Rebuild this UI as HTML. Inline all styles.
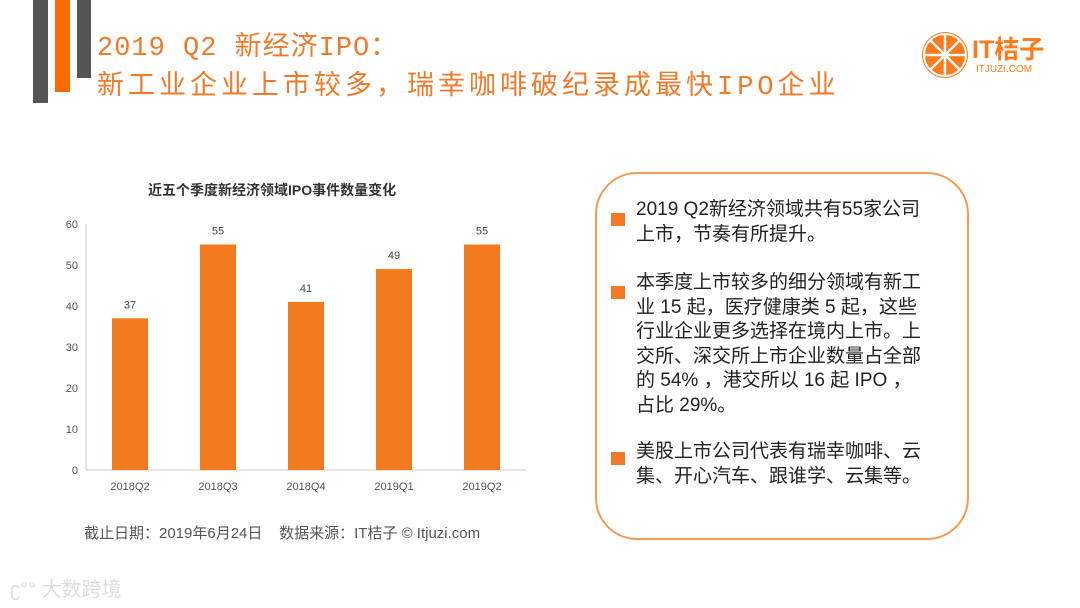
<!DOCTYPE html>
<html><head><meta charset="utf-8"><style>
body{margin:0;width:1080px;height:608px;background:#fff;position:relative;overflow:hidden;font-family:"Liberation Sans","Noto Sans CJK SC",sans-serif}
.abs{position:absolute}
.title{left:97px;color:#f07a2a;font-size:27px;font-family:"Liberation Mono","Noto Sans CJK SC",monospace;white-space:nowrap;letter-spacing:1px}
.tb{position:absolute;left:636px;width:330px;font-size:19px;line-height:24.5px;color:#222;white-space:nowrap}
.bul{position:absolute;left:611px;width:14px;height:13px;background:#f07a2a}
</style></head><body>
<div class="abs" style="left:33px;top:0;width:15px;height:103px;background:#555"></div>
<div class="abs" style="left:55px;top:0;width:15px;height:92px;background:#ff6a00"></div>
<div class="abs" style="left:77px;top:0;width:14px;height:78px;background:#555"></div>
<div class="abs title" style="top:24px">2019 Q2 新经济IPO：</div>
<div class="abs title" style="top:63px;letter-spacing:4px">新工业企业上市较多，瑞幸咖啡破纪录成最快IPO企业</div>
<div class="abs" style="left:920px;top:30px;width:150px;height:50px">
<svg width="50" height="50" viewBox="0 0 50 50" class="abs" style="left:0;top:0"><circle cx="25" cy="25" r="23" fill="#ff7a1a"/><g stroke="#fff" stroke-width="2.5"><line x1="25" y1="4" x2="25" y2="46"/><line x1="4" y1="25" x2="46" y2="25"/><line x1="10" y1="10" x2="40" y2="40"/><line x1="40" y1="10" x2="10" y2="40"/></g><circle cx="25" cy="25" r="21" fill="none" stroke="#fff" stroke-width="2"/></svg>
<div class="abs" style="left:52px;top:0;font-size:25px;color:#ff7a1a;font-weight:bold">IT桔子</div>
<div class="abs" style="left:56px;top:34px;font-size:10px;color:#ff7a1a">ITJUZI.COM</div>
</div>
<div class="abs" style="left:148px;top:180px;font-size:14px;font-weight:bold;color:#333">近五个季度新经济领域IPO事件数量变化</div>
<svg class="abs" style="left:0;top:0" width="560" height="500" id="chart"></svg>
<div class="abs" style="left:84px;top:522px;font-size:15px;color:#555">截止日期：2019年6月24日&nbsp;&nbsp;&nbsp;&nbsp;数据来源：IT桔子 © Itjuzi.com</div>
<div class="abs" style="left:10px;top:573px;font-size:20px;color:#ddd">ʗ°°&nbsp;大数跨境</div>
<div class="abs" style="left:595px;top:172px;width:370px;height:364px;border:2px solid #f39a55;border-radius:42px"></div>
<div class="bul" style="top:213px"></div>
<div class="tb" style="top:198px">2019 Q2新经济领域共有55家公司<br>上市，节奏有所提升。</div>
<div class="bul" style="top:286px"></div>
<div class="tb" style="top:271px">本季度上市较多的细分领域有新工<br>业 15 起，医疗健康类 5 起，这些<br>行业企业更多选择在境内上市。上<br>交所、深交所上市企业数量占全部<br>的 54% ，港交所以 16 起 IPO ，<br>占比 29%。</div>
<div class="bul" style="top:452px"></div>
<div class="tb" style="top:440px">美股上市公司代表有瑞幸咖啡、云<br>集、开心汽车、跟谁学、云集等。</div>
<script>
const categories=["2018Q2","2018Q3","2018Q4","2019Q1","2019Q2"];
const values=[37,55,41,49,55];
const ticks=[0,10,20,30,40,50,60];
const svg=document.getElementById('chart');
const NS="http://www.w3.org/2000/svg";
const x0=86,x1=526,y0=470,y1=224,ymax=60;
const y=v=>y0-(v/ymax)*(y0-y1);
const bw=(x1-x0)/categories.length;
const xc=i=>x0+bw*(i+0.5);
function mk(t,a,txt){const e=document.createElementNS(NS,t);for(const k in a)e.setAttribute(k,a[k]);if(txt!=null)e.textContent=txt;svg.appendChild(e);return e;}
ticks.forEach(t=>{
 const e=mk('text',{x:78,y:y(t)+4,'text-anchor':'end','font-size':11,fill:'#555','font-family':'Liberation Sans'},t);
 
 
});
const ax=mk('line',{x1:x0,x2:x1,y1:y0,y2:y0,stroke:'#ccc'});


const ay=mk('line',{x1:x0,x2:x0,y1:y1,y2:y0,stroke:'#ccc'});


categories.forEach((c,i)=>{
 const r=mk('rect',{x:xc(i)-18,y:y(values[i]),width:36,height:y0-y(values[i]),fill:'#f47a20'});
 
 
 const v=mk('text',{x:xc(i),y:y(values[i])-10,'text-anchor':'middle','font-size':11,fill:'#444','font-family':'Liberation Sans'},values[i]);
 
 
 const l=mk('text',{x:xc(i),y:490,'text-anchor':'middle','font-size':11,fill:'#555','font-family':'Liberation Sans'},c);
 
 
});
</script>
</body></html>
